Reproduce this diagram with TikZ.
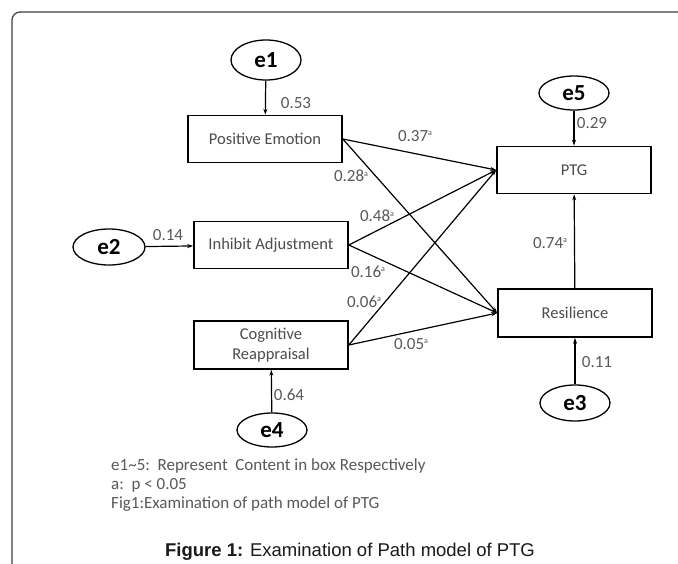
\documentclass[tikz,border=0pt]{standalone}
\usepackage{fontspec}
\setmainfont{Carlito}
\newfontfamily\capfont{Liberation Sans}
\usetikzlibrary{arrows.meta,shapes.geometric}
\newcommand{\siga}{\raisebox{0.7ex}{\fontsize{8}{8}\selectfont a}}

\begin{document}
\begin{tikzpicture}[x=1pt, y=-1pt,
  >={Stealth[length=6pt,width=4pt]},
  var/.style={draw, line width=1.6pt, minimum width=154pt, minimum height=47pt, inner sep=2pt,
    font=\fontsize{16.5}{20}\selectfont, text=black!70, align=center},
  err/.style={draw, ellipse, line width=1.3pt, inner sep=0pt, font=\fontsize{23}{23}\selectfont\bfseries},
  link/.style={->, line width=1.2pt},
  coef/.style={inner sep=0pt, font=\fontsize{17}{17}\selectfont, text=black!65}]

% FRAME
\fill[white] (0,0) rectangle (678,563);
\useasboundingbox (0,0) rectangle (678,563);
\clip (0,0) rectangle (678,563);
\draw[rounded corners=8pt, line width=1.2pt, black!75] (12,600) |- (700,12);

% VARIABLES
\node[var] (pe) at (265,139) {Positive Emotion};
\node[var] (ia) at (271,245) {Inhibit Adjustment};
\node[var, minimum height=48pt] (cr) at (271,345) {Cognitive\\Reappraisal};
\node[var] (ptg) at (574,170) {PTG};
\node[var, minimum height=48pt] (res) at (575,313) {Resilience};

% ERRORS
\node[err, minimum width=70pt, minimum height=40pt] (e1) at (266,60) {e1};
\node[err, minimum width=72pt, minimum height=36pt] (e2) at (109,247) {e2};
\node[err, minimum width=70pt, minimum height=36pt] (e3) at (575,403) {e3};
\node[err, minimum width=70pt, minimum height=34pt] (e4) at (272,430) {e4};
\node[err, minimum width=70pt, minimum height=34pt] (e5) at (574,93) {e5};

% ERROR PATHS
\draw[link] (e1) -- (pe);
\draw[link] (e2) -- (ia);
\draw[link] (e3) -- (res);
\draw[link] (e4) -- (cr);
\draw[link] (e5) -- (ptg);

% STRUCTURAL PATHS
\draw[link] (pe.east) -- (ptg.west);
\draw[link] (pe.east) -- (res.west);
\draw[link] (ia.east) -- (ptg.west);
\draw[link] (ia.east) -- (res.west);
\draw[link] (cr.east) -- (ptg.west);
\draw[link] (cr.east) -- (res.west);
\draw[link] (res) -- (ptg);

% COEFFICIENTS
\node[coef] (c53) at (296,103) {0.53};
\node[coef] (c29) at (592,123) {0.29};
\node[coef] (c14) at (168,235) {0.14};
\node[coef] (c11) at (597,362) {0.11};
\node[coef] (c64) at (289,395) {0.64};
\node[coef] (c37) at (415,136) {0.37\siga};
\node[coef] (c28) at (351,176) {0.28\siga};
\node[coef] (c48) at (377,216) {0.48\siga};
\node[coef] (c16) at (368,272) {0.16\siga};
\node[coef] (c06) at (364,302) {0.06\siga};
\node[coef] (c05) at (411,344) {0.05\siga};
\node[coef] (c74) at (550,243) {0.74\siga};

% NOTES
\node[anchor=base west, inner sep=0pt, align=left, text=black!65, font=\fontsize{17}{19}\selectfont] (notes) at (111,508)
  {e1\textasciitilde5:\ \ Represent\ \ Content in box Respectively\\a:\ \ p < 0.05\\Fig1:Examination of path model of PTG};

% CAPTION
\node[anchor=base, inner sep=0pt, text=black!90, font=\capfont\fontsize{18.5}{20}\selectfont] (caption) at (350,556)
  {\textbf{Figure 1:} Examination of Path model of PTG};

\end{tikzpicture}
\end{document}
